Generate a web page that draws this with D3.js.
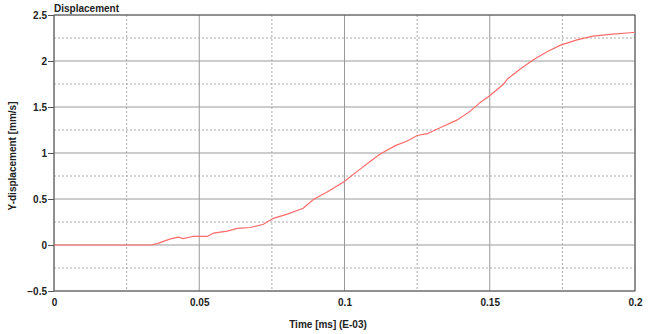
<!doctype html>
<html>
<head>
<meta charset="utf-8">
<title>Displacement</title>
<script src="https://d3js.org/d3.v7.min.js"></script>
<style>
  body { margin: 0; background: #fff; }
  text { font-family: "Liberation Sans", Arial, sans-serif; font-weight: bold; fill: #222; }
</style>
</head>
<body>
<div id="main"></div>
<script>
const times = [0, 0.0332, 0.0356, 0.0377, 0.0401, 0.0428, 0.0445, 0.048, 0.0528, 0.0549,
               0.0597, 0.0631, 0.0676, 0.0721, 0.0755, 0.0803, 0.0858, 0.0893, 0.0951, 0.0999,
               0.1044, 0.1089, 0.1123, 0.1175, 0.1216, 0.125, 0.1285, 0.134, 0.1388, 0.1433,
               0.1467, 0.1501, 0.1546, 0.1563, 0.1604, 0.1649, 0.1697, 0.1742, 0.18, 0.1855,
               0.1914, 0.1993, 0.2]
const displacement = [0, 0, 0.015, 0.04, 0.066, 0.085, 0.07, 0.095, 0.093, 0.13,
                      0.15, 0.18, 0.19, 0.225, 0.29, 0.335, 0.4, 0.495, 0.595, 0.69,
                      0.8, 0.91, 0.99, 1.08, 1.13, 1.19, 1.21, 1.29, 1.36, 1.455,
                      1.55, 1.625, 1.745, 1.81, 1.91, 2.01, 2.1, 2.17, 2.23, 2.27,
                      2.29, 2.31, 2.31]
const xTicks = [0, 0.05, 0.1, 0.15, 0.2]
const xMinor = [0.025, 0.075, 0.125, 0.175]
const yTicks = [-0.5, 0, 0.5, 1, 1.5, 2, 2.5]
const yMinor = [-0.25, 0.25, 0.75, 1.25, 1.75, 2.25]

const width = 650, height = 334
const margin = {left: 54, right: 15, top: 15, bottom: 43}

const svg = d3.select('#main').append('svg')
              .attr('width', width).attr('height', height)

const x = d3.scaleLinear().domain([0, 0.2]).range([margin.left, width - margin.right])
const y = d3.scaleLinear().domain([-0.5, 2.5]).range([height - margin.bottom, margin.top])

// minor grid, dotted
svg.append('g').selectAll('line').data(xMinor).enter().append('line')
   .attr('x1', d => x(d)).attr('x2', d => x(d))
   .attr('y1', y(2.5)).attr('y2', y(-0.5))
   .attr('stroke', '#aaa').attr('stroke-dasharray', '2,2')
svg.append('g').selectAll('line').data(yMinor).enter().append('line')
   .attr('x1', x(0)).attr('x2', x(0.2))
   .attr('y1', d => y(d)).attr('y2', d => y(d))
   .attr('stroke', '#aaa').attr('stroke-dasharray', '2,2')

// major grid, solid
svg.append('g').selectAll('line').data(xTicks).enter().append('line')
   .attr('x1', d => x(d)).attr('x2', d => x(d))
   .attr('y1', y(2.5)).attr('y2', y(-0.5))
   .attr('stroke', '#9a9a9a')
svg.append('g').selectAll('line').data(yTicks).enter().append('line')
   .attr('x1', x(0)).attr('x2', x(0.2))
   .attr('y1', d => y(d)).attr('y2', d => y(d))
   .attr('stroke', '#9a9a9a')

// axes
svg.append('g').attr('transform', `translate(${margin.left},0)`)
   .call(d3.axisLeft(y).tickValues(yTicks).tickSize(6).tickPadding(1)
           .tickFormat(d3.format('')))
svg.append('g').attr('transform', `translate(0,${height - margin.bottom})`)
   .call(d3.axisBottom(x).tickValues(xTicks).tickSize(0).tickPadding(8)
           .tickFormat(d => d === 0 ? '0' : d3.format('')(d)))
svg.selectAll('.domain').remove()
svg.selectAll('.tick line').attr('stroke', '#555')
svg.selectAll('.tick text').style('font-size', '10px').attr('fill', '#222')

// frame
svg.append('rect')
   .attr('x', x(0)).attr('y', y(2.5))
   .attr('width', x(0.2) - x(0)).attr('height', y(-0.5) - y(2.5))
   .attr('fill', 'none').attr('stroke', '#555')

// curve
const points = times.map((t, i) => [t, displacement[i]])
svg.append('path').datum(points)
   .attr('d', d3.line().x(d => x(d[0])).y(d => y(d[1])))
   .attr('fill', 'none').attr('stroke', '#ff6b6b').attr('stroke-width', 1.2)

// labels
svg.append('text').attr('x', margin.left).attr('y', 12)
   .style('font-size', '10px').text('Displacement')
svg.append('text').attr('x', 328).attr('y', 328).attr('text-anchor', 'middle')
   .style('font-size', '10px').text('Time [ms] (E-03)')
svg.append('text').attr('transform', 'translate(12,156) rotate(-90)')
   .attr('text-anchor', 'middle').attr('dy', '0.35em')
   .style('font-size', '10px').text('Y-displacement [mm/s]')
</script>
</body>
</html>
